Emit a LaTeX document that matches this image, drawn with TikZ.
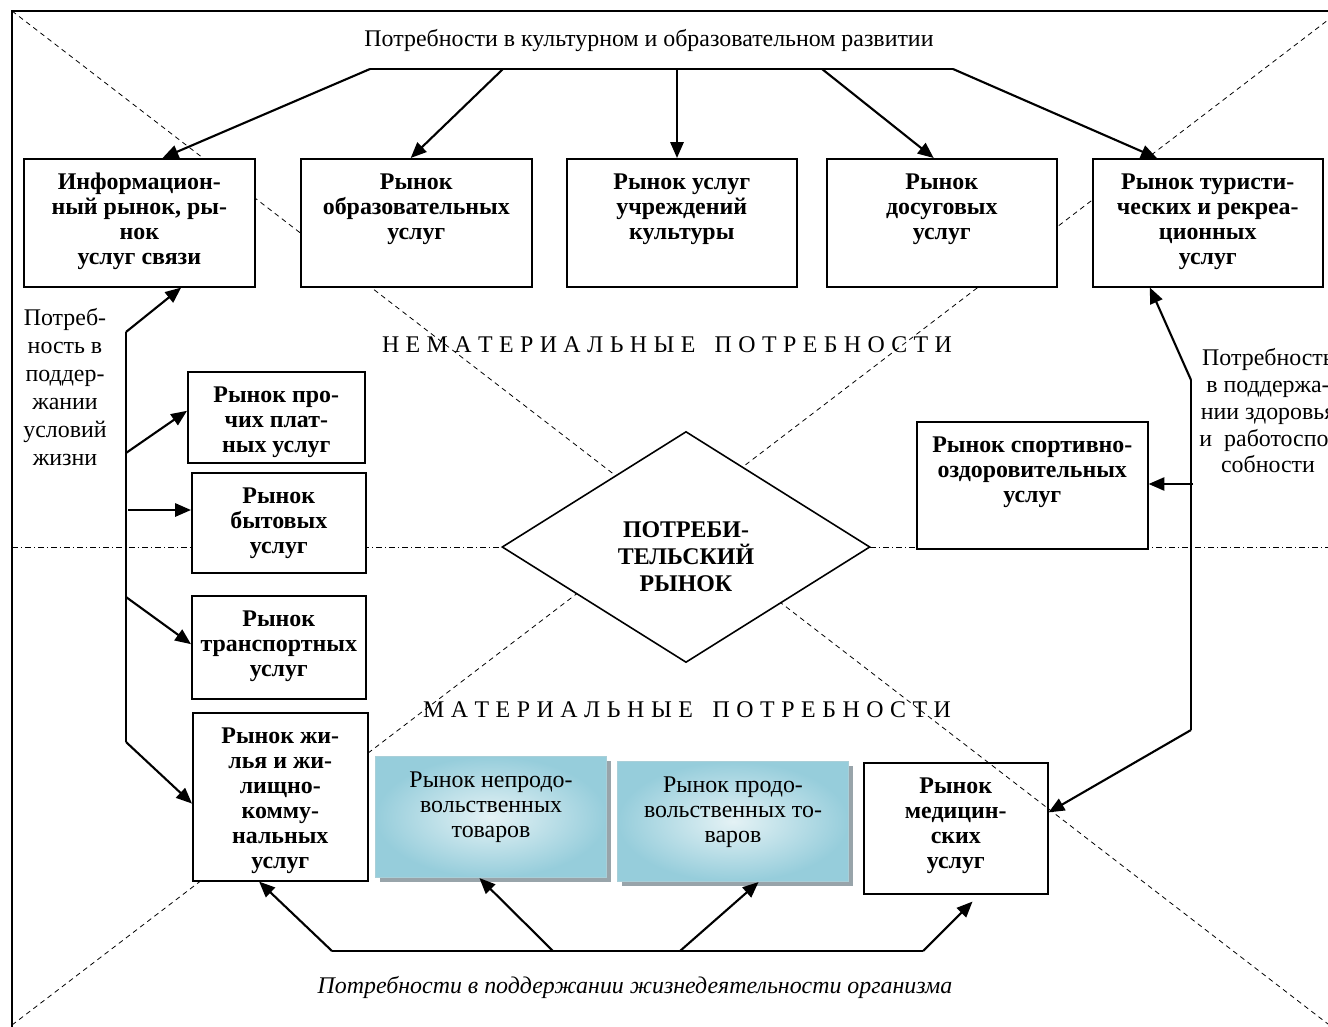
\documentclass[tikz,border=0pt]{standalone}
\usepackage{fontspec}
\setmainfont{Liberation Serif}
\usetikzlibrary{arrows.meta,shapes.geometric,calc,shadows}
\newdimen\pxu \pxu=0.02cm
\newcommand\bxt[3]{\parbox[c][#2\pxu][t]{#1\pxu}{\centering\rule{0pt}{17.5pt}#3}}
\definecolor{gblue}{HTML}{96CDDB}
\definecolor{glight}{HTML}{E4F2F5}
\definecolor{gshadow}{HTML}{98A4AA}
\definecolor{gborder}{HTML}{A9CFD8}
\begin{document}
\begin{tikzpicture}[x=0.02cm,y=-0.02cm,
  mbox/.style={draw, line width=0.9pt, fill=white, inner sep=0pt, anchor=north west,
    font=\bfseries\fontsize{13.6}{14.2}\selectfont},
  gbox/.style={draw=gborder, line width=0.6pt, inner sep=0pt, anchor=north west,
    inner color=glight, outer color=gblue,
    drop shadow={shadow xshift=2.3pt, shadow yshift=-2.3pt, fill=gshadow, opacity=1},
    font=\fontsize{13.6}{14.2}\selectfont},
  arr/.style={line width=1.2pt, -{Triangle[length=9pt,width=7.5pt]}},
  ln/.style={line width=1.2pt},
  diag/.style={line width=0.45pt, dash pattern=on 2.8pt off 2.3pt},
  dashdot/.style={line width=0.45pt, dash pattern=on 3.4pt off 1.7pt on 0.6pt off 1.7pt},
  txt/.style={font=\fontsize{13.6}{14.2}\selectfont, inner sep=0pt}
]
\useasboundingbox (0,0) rectangle (1328,1027);
\clip (0,0) rectangle (1328,1027);
% frame and guide lines
\draw[line width=0.75pt] (12,1100) -- (12,11) -- (1400,11);
\draw[diag] (12,11) -- (1328,1024);
\draw[diag] (12,1025) -- (1328,20);
\draw[dashdot] (12,547) -- (1328,547);

% spaced headings
\node[txt, anchor=base] (nonmat) at (667,352) {\makebox[570\pxu]{Н\hfill Е\hfill М\hfill А\hfill Т\hfill Е\hfill Р\hfill И\hfill А\hfill Л\hfill Ь\hfill Н\hfill Ы\hfill Е\hfill\hfill\hfill П\hfill О\hfill Т\hfill Р\hfill Е\hfill Б\hfill Н\hfill О\hfill С\hfill Т\hfill И}};
\node[txt, anchor=base] (mat) at (687,717) {\makebox[528\pxu]{М\hfill А\hfill Т\hfill Е\hfill Р\hfill И\hfill А\hfill Л\hfill Ь\hfill Н\hfill Ы\hfill Е\hfill\hfill\hfill П\hfill О\hfill Т\hfill Р\hfill Е\hfill Б\hfill Н\hfill О\hfill С\hfill Т\hfill И}};

% boxes
\node[mbox] (info) at (23,158) {\bxt{231}{128}{Информацион-\\ный рынок, ры-\\нок\\услуг связи}};
\node[mbox] (edu) at (300,158) {\bxt{231}{128}{Рынок\\образовательных\\услуг}};
\node[mbox] (cult) at (566,158) {\bxt{230}{128}{Рынок услуг\\учреждений\\культуры}};
\node[mbox] (leis) at (826,158) {\bxt{230}{128}{Рынок\\досуговых\\услуг}};
\node[mbox] (tour) at (1092,158) {\bxt{230}{128}{Рынок туристи-\\ческих и рекреа-\\ционных\\услуг}};
\node[mbox] (paid) at (187,371) {\bxt{177}{91}{Рынок про-\\чих плат-\\ных услуг}};
\node[mbox] (home) at (191,472) {\bxt{174}{100}{Рынок\\бытовых\\услуг}};
\node[mbox] (trans) at (191,595) {\bxt{174}{103}{Рынок\\транспортных\\услуг}};
\node[mbox] (hous) at (192,712) {\bxt{175}{168}{Рынок жи-\\лья и жи-\\лищно-\\комму-\\нальных\\услуг}};
\node[mbox] (sport) at (916,421) {\bxt{231}{127}{Рынок спортивно-\\оздоровительных\\услуг}};
\node[mbox, fill=none] (med) at (863,762) {\bxt{184}{131}{Рынок\\медицин-\\ских\\услуг}};
\node[gbox] (nonfood) at (375,756) {\bxt{231}{121}{Рынок непродо-\\вольственных\\товаров}};
\node[gbox] (food) at (617,761) {\bxt{231}{120}{Рынок продо-\\вольственных то-\\варов}};

% diamond
\node[draw, diamond, line width=0.9pt, fill=white, minimum width=368\pxu, minimum height=231\pxu, inner sep=0pt, aspect=1.593] (diam) at (686,547) {};
\node[font=\bfseries\fontsize{13.6}{15.3}\selectfont, align=center, inner sep=0pt] (diamt) at (686,557) {ПОТРЕБИ-\\ТЕЛЬСКИЙ\\РЫНОК};

% free texts
\node[txt, anchor=base] (toptxt) at (649,47) {Потребности в культурном и образовательном развитии};
\node[txt, anchor=base, font=\itshape\fontsize{13.6}{14.2}\selectfont] (bottxt) at (635,993) {Потребности в поддержании жизнедеятельности организма};
\node[txt, align=center, anchor=north, font=\fontsize{13.6}{15.9}\selectfont] (lefttxt) at (65,308) {Потреб-\\ность в\\поддер-\\жании\\условий\\жизни};
\node[txt, align=center, anchor=north, font=\fontsize{13.6}{15.3}\selectfont] (righttxt) at (1268,348) {Потребность\\в поддержа-\\нии здоровья\\и~ работоспо-\\собности};

% top connectors
\coordinate (tl) at (370,69);
\coordinate (t2) at (503,69);
\coordinate (t3) at (677,69);
\coordinate (t4) at (822,69);
\coordinate (tr) at (953,69);
\draw[ln] (tl) -- (tr);
\draw[arr] (tl) -- ($(info.north west)!0.6!(info.north east)$);
\draw[arr] (t2) -- ($(edu.north west)!0.476!(edu.north east)$);
\draw[arr] (t3) -- (cult.north -| t3);
\draw[arr] (t4) -- ($(leis.north west)!0.465!(leis.north east)$);
\draw[arr] (tr) -- ($(tour.north west)!0.28!(tour.north east)$);

% left connectors
\coordinate (l1) at (126,332);
\coordinate (lp) at (126,453);
\coordinate (lb) at (128,510);
\coordinate (lt) at (126,597);
\coordinate (l2) at (126,742);
\draw[ln] (l1) -- (l2);
\draw[arr] (l1) -- ($(info.south west)!0.68!(info.south east)$);
\draw[arr] (lp) -- ($(paid.north west)!0.43!(paid.south west)$);
\draw[arr] (lb) -- (home.west |- lb);
\draw[arr] (lt) -- ($(trans.north west)!0.47!(trans.south west)$);
\draw[arr] (l2) -- ($(hous.north west)!0.54!(hous.south west)$);

% right connectors
\coordinate (r1) at (1191,380);
\coordinate (rs) at (1193,484);
\coordinate (r2) at (1191,730);
\draw[ln] (r1) -- (r2);
\draw[arr] (r1) -- ($(tour.south west)!0.25!(tour.south east)$);
\draw[arr] (rs) -- (sport.east |- rs);
\draw[arr] (r2) -- ($(med.north east)!0.38!(med.south east)$);

% bottom connectors
\coordinate (b1) at (332,951);
\coordinate (b2) at (553,951);
\coordinate (b3) at (680,951);
\coordinate (b4) at (923,951);
\draw[ln] (b1) -- (b4);
\draw[arr] (b1) -- ($(hous.south west)!0.38!(hous.south east)$);
\draw[arr] (b2) -- ($(nonfood.south west)!0.45!(nonfood.south east)$);
\draw[arr] (b3) -- ($(food.south west)!0.61!(food.south east)$);
\draw[arr] (b4) -- ($(med.south west)!0.59!(med.south east)+(0,7)$);
\end{tikzpicture}
\end{document}
